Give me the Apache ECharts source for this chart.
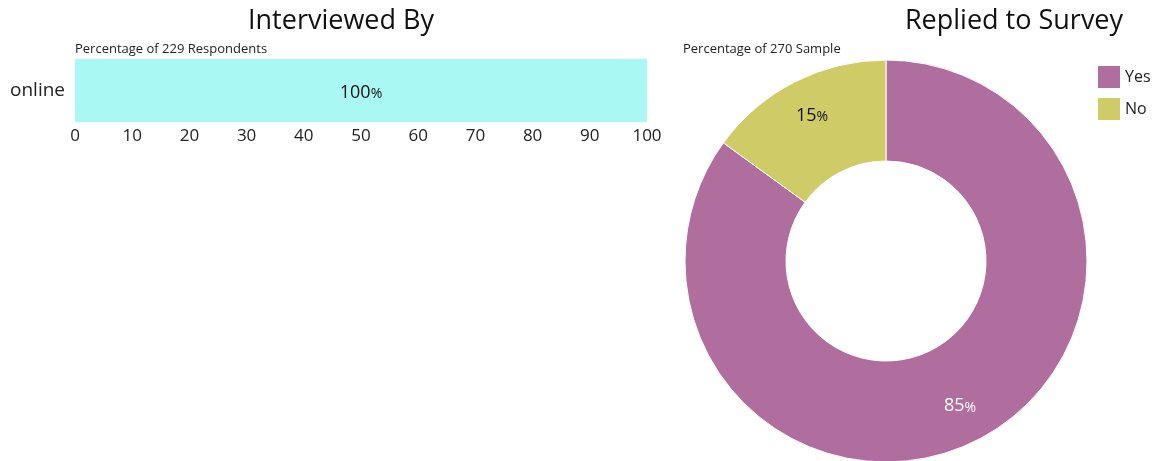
<!DOCTYPE html>
<html>
<head>
<meta charset="utf-8">
<script src="https://cdn.jsdelivr.net/npm/echarts@6/dist/echarts.min.js"></script>
<style>
  html, body { margin: 0; padding: 0; background: #fff; }
  #chart { width: 1153px; height: 461px; }
</style>
</head>
<body>
<div id="chart"></div>
<script>
// Interview method (percent of respondents)
const methodCategories = ['online'];
const methodValues = [100];
const methodTicks = [0, 10, 20, 30, 40, 50, 60, 70, 80, 90, 100];

// Survey reply split (percent of sample)
const replyCategories = ['Yes', 'No'];
const replyValues = [85, 15];

const FONT = '"Open Sans", "Noto Sans", sans-serif';
const PIE_CENTER = [886, 261];
const LABEL_RADIUS = 163;

const chart = echarts.init(document.getElementById('chart'), null, { renderer: 'canvas' });

const pctLabel = color => ({
  show: true,
  position: 'inside',
  formatter: p => '{v|' + p.value + '}{p|%}',
  rich: {
    v: { fontSize: 18, color, fontFamily: FONT },
    p: { fontSize: 14, color, fontFamily: FONT, padding: [3, 0, 0, 0] }
  }
});

chart.setOption({
  animation: false,
  textStyle: { fontFamily: FONT },
  title: [
    { text: 'Interviewed By', left: 336, top: 3, textAlign: 'center',
      textStyle: { fontSize: 27, fontWeight: 'normal', color: '#111', fontFamily: FONT } },
    { text: 'Percentage of 229 Respondents', left: 70, top: 38,
      textStyle: { fontSize: 13, fontWeight: 'normal', color: '#222', fontFamily: FONT } },
    { text: 'Replied to Survey', left: 1009, top: 3, textAlign: 'center',
      textStyle: { fontSize: 27, fontWeight: 'normal', color: '#111', fontFamily: FONT } },
    { text: 'Percentage of 270 Sample', left: 678, top: 38,
      textStyle: { fontSize: 13, fontWeight: 'normal', color: '#222', fontFamily: FONT } }
  ],
  legend: {
    data: replyCategories,
    orient: 'vertical',
    left: 1093,
    top: 61,
    itemWidth: 22,
    itemHeight: 22,
    itemGap: 10,
    itemStyle: { borderWidth: 0 },
    textStyle: { fontSize: 16, color: '#222', fontFamily: FONT },
    icon: 'rect'
  },
  grid: { left: 75, right: 506, top: 59, height: 63, containLabel: false },
  xAxis: {
    type: 'value',
    min: methodTicks[0],
    max: methodTicks[methodTicks.length - 1],
    interval: 10,
    axisLine: { show: false },
    axisTick: { show: false },
    splitLine: { show: false },
    axisLabel: { fontSize: 17, color: '#222', margin: 6, fontFamily: FONT }
  },
  yAxis: {
    type: 'category',
    data: methodCategories,
    axisLine: { show: false },
    axisTick: { show: false },
    axisLabel: { fontSize: 19, color: '#222', margin: 10, fontFamily: FONT, padding: [4, 0, 0, 0] }
  },
  series: [
    {
      type: 'bar',
      data: methodValues,
      barCategoryGap: 0,
      barWidth: '100%',
      itemStyle: { color: '#aaf8f4' },
      label: Object.assign(pctLabel('#111'), { offset: [0, 2] })
    },
    {
      type: 'pie',
      center: PIE_CENTER,
      radius: [100, 201],
      startAngle: 90,
      clockwise: true,
      color: ['#b06e9f', '#cfcc68'],
      itemStyle: { borderColor: '#fff', borderWidth: 1 },
      labelLine: { show: false },
      emphasis: { disabled: true },
      data: replyCategories.map((name, i) => ({
        name, value: replyValues[i],
        label: pctLabel(i === 0 ? '#fff' : '#111')
      })),
      // push the inside labels a little further out along their radial direction
      labelLayout: function (params) {
        const r = params.labelRect;
        const cx = r.x + r.width / 2 - PIE_CENTER[0];
        const cy = r.y + r.height / 2 - PIE_CENTER[1];
        const d = Math.sqrt(cx * cx + cy * cy) || 1;
        const k = LABEL_RADIUS / d;
        return {
          x: PIE_CENTER[0] + cx * k,
          y: PIE_CENTER[1] + cy * k,
          align: 'center',
          verticalAlign: 'middle'
        };
      }
    }
  ]
});
</script>
</body>
</html>
